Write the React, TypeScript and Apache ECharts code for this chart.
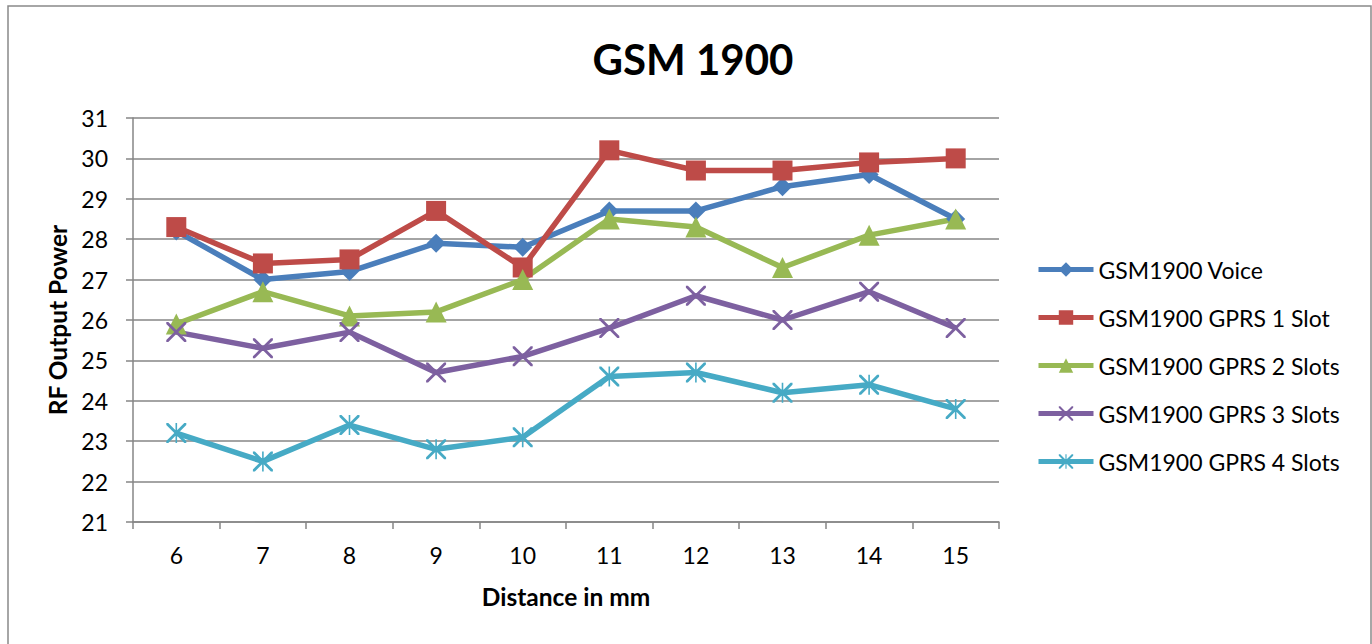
import React, { useEffect, useRef } from "react";
import * as echarts from "echarts";

const categories = ["6", "7", "8", "9", "10", "11", "12", "13", "14", "15"];
const seriesNames = [
  "GSM1900 Voice",
  "GSM1900 GPRS 1 Slot",
  "GSM1900 GPRS 2 Slots",
  "GSM1900 GPRS 3 Slots",
  "GSM1900 GPRS 4 Slots",
];
const voice = [28.2, 27.0, 27.2, 27.9, 27.8, 28.7, 28.7, 29.3, 29.6, 28.5];
const gprs1 = [28.3, 27.4, 27.5, 28.7, 27.3, 30.2, 29.7, 29.7, 29.9, 30.0];
const gprs2 = [25.9, 26.7, 26.1, 26.2, 27.0, 28.5, 28.3, 27.3, 28.1, 28.5];
const gprs3 = [25.7, 25.3, 25.7, 24.7, 25.1, 25.8, 26.6, 26.0, 26.7, 25.8];
const gprs4 = [23.2, 22.5, 23.4, 22.8, 23.1, 24.6, 24.7, 24.2, 24.4, 23.8];
const colors = ["#4A7EBB", "#BE4B48", "#98B954", "#7D60A0", "#46AAC5"];

const FONT = "Lato, 'Open Sans', sans-serif";

const xPath =
  "path://M0,0 L2,0 L10,8 L18,0 L20,0 L20,2 L12,10 L20,18 L20,20 L18,20 L10,12 L2,20 L0,20 L0,18 L8,10 L0,2 Z";
const starPath =
  "path://M0,0 L2,0 L10,8 L18,0 L20,0 L20,2 L12,10 L20,18 L20,20 L18,20 L10,12 L2,20 L0,20 L0,18 L8,10 L0,2 Z M9.2,0 L10.8,0 L10.8,20 L9.2,20 Z";

export default function App() {
  const ref = useRef<HTMLDivElement>(null);
  useEffect(() => {
    if (!ref.current) return;
    const chart = echarts.init(ref.current, null, { renderer: "svg" });
    const data = [voice, gprs1, gprs2, gprs3, gprs4];
    const symbols = ["diamond", "rect", "triangle", xPath, starPath];
    const sizes = [19, 20, 21, 20, 20];
    chart.setOption({
      animation: false,
      backgroundColor: "#ffffff",
      title: {
        text: "GSM 1900",
        left: 688,
        top: 33,
        textAlign: "center",
        textStyle: { fontFamily: FONT, fontSize: 42, fontWeight: "bold", color: "#000" },
      },
      graphic: [
        {
          type: "rect",
          shape: { x: 8, y: 6, width: 1363, height: 660 },
          style: { fill: "none", stroke: "#898989", lineWidth: 1.5 },
          silent: true,
        },
      ],
      legend: {
        orient: "vertical",
        left: 1031,
        top: 253,
        itemWidth: 55,
        itemHeight: 18,
        itemGap: 25,
        data: seriesNames,
        lineStyle: { width: 5 },
        textStyle: { fontFamily: FONT, fontSize: 23, lineHeight: 18, color: "#000" },
      },
      grid: { left: 133, right: 373, top: 118, bottom: 122, containLabel: false },
      xAxis: {
        type: "category",
        data: categories,
        boundaryGap: true,
        name: "Distance in mm",
        nameLocation: "middle",
        nameGap: 62,
        nameTextStyle: { fontFamily: FONT, fontSize: 24.5, fontWeight: "bold", color: "#000" },
        axisLine: { lineStyle: { color: "#868686", width: 1.5 } },
        axisTick: { show: true, length: 7, alignWithLabel: false, lineStyle: { color: "#868686", width: 1.5 } },
        axisLabel: { fontFamily: FONT, fontSize: 23, color: "#000", margin: 21 },
      },
      yAxis: {
        type: "value",
        min: 21,
        max: 31,
        interval: 1,
        name: "RF Output Power",
        nameLocation: "middle",
        nameGap: 62,
        nameRotate: 90,
        nameTextStyle: { fontFamily: FONT, fontSize: 24.5, fontWeight: "bold", color: "#000" },
        axisLine: { show: true, lineStyle: { color: "#868686", width: 1.5 } },
        axisTick: { show: true, length: 7, lineStyle: { color: "#868686", width: 1.5 } },
        axisLabel: { fontFamily: FONT, fontSize: 23, color: "#000", margin: 25 },
        splitLine: { lineStyle: { color: "#868686", width: 1.5 } },
      },
      series: seriesNames.map((name, i) => ({
        name,
        type: "line",
        data: data[i],
        symbol: symbols[i],
        symbolSize: sizes[i],
        showAllSymbol: true,
        lineStyle: { color: colors[i], width: 5.5 },
        itemStyle: { color: colors[i] },
        emphasis: { disabled: true },
      })),
    });
    return () => chart.dispose();
  }, []);
  return (
    <div
      ref={ref}
      style={{ position: "absolute", left: 0, top: 0, width: 1372, height: 644 }}
    />
  );
}
